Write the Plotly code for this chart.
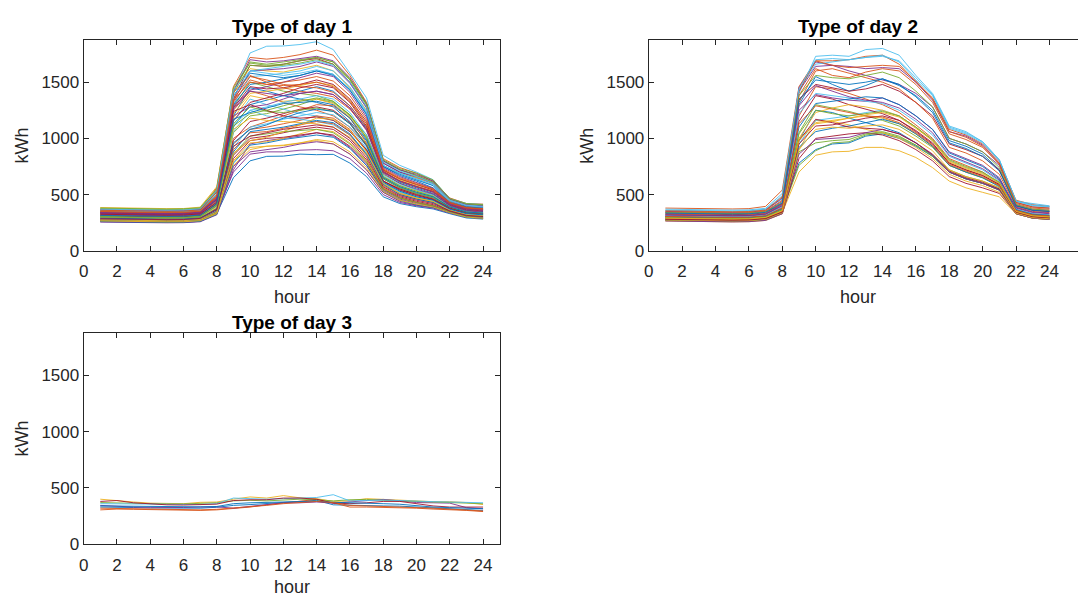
import plotly.graph_objects as go

hours = list(range(1, 25))

# Type of day 1 load profiles (kWh per hour)
day1 = [
    [300,296,293,291,290,291,298,330,650,800,840,842,860,855,858,780,660,480,420,392,372,330,292,282],
    [370,366,362,360,360,361,372,560,1460,1720,1705,1720,1745,1785,1740,1560,1320,820,740,690,620,470,420,415],
    [265,262,260,258,258,259,268,330,760,900,930,935,960,980,950,860,720,520,450,410,390,340,300,285],
    [280,276,273,271,270,271,280,340,700,860,880,880,895,900,890,820,690,500,430,400,380,335,300,290],
    [360,356,352,350,350,352,365,520,1420,1680,1660,1680,1700,1720,1680,1520,1300,800,720,670,610,450,400,395],
    [330,326,322,320,319,320,335,420,1400,1760,1820,1822,1835,1860,1790,1580,1360,850,760,700,632,462,420,412],
    [340,336,333,331,330,332,345,480,1350,1650,1640,1660,1690,1710,1660,1500,1280,780,700,650,600,440,395,385],
    [310,306,303,301,300,302,312,420,1200,1450,1420,1380,1350,1320,1280,1150,980,640,560,510,470,380,340,330],
    [290,287,284,282,281,282,292,380,1000,1100,1150,1200,1250,1300,1290,1180,960,620,540,490,450,370,330,320],
    [385,381,378,376,375,376,388,570,1440,1620,1600,1590,1620,1650,1600,1450,1250,760,690,650,600,440,410,405],
    [255,252,250,249,249,250,258,320,720,950,980,1000,1020,1050,1020,920,760,540,460,420,395,345,305,290],
    [320,316,313,311,310,312,322,450,1280,1500,1460,1420,1400,1380,1330,1200,1030,680,600,540,500,400,355,345],
    [350,346,343,341,340,342,352,500,1300,1550,1560,1580,1600,1640,1600,1460,1240,760,690,640,580,430,385,380],
    [275,272,269,267,267,268,276,350,850,1000,1020,1050,1080,1100,1080,980,810,560,480,440,410,350,310,300],
    [300,297,294,292,291,292,302,400,1100,1300,1340,1380,1420,1460,1420,1290,1090,700,610,560,510,405,360,350],
    [330,327,324,322,321,323,333,440,1250,1420,1380,1320,1280,1250,1200,1100,940,620,550,500,460,375,335,325],
    [265,262,259,257,257,258,266,335,800,960,970,1000,1040,1080,1060,960,800,560,470,430,400,345,305,295],
    [345,342,339,337,336,338,348,470,1330,1600,1610,1620,1640,1680,1640,1490,1270,780,700,660,600,445,400,390],
    [295,292,289,287,286,287,297,380,1050,1200,1220,1260,1300,1350,1320,1210,1000,650,570,520,480,390,345,335],
    [310,307,304,302,301,302,312,410,1150,1350,1300,1260,1220,1200,1160,1060,900,610,540,490,455,375,335,325],
    [270,267,264,262,262,263,272,345,820,980,1000,1010,1030,1050,1030,930,780,550,470,430,400,345,305,295],
    [355,352,349,347,346,348,358,500,1380,1580,1560,1540,1560,1600,1560,1430,1220,750,680,630,580,430,390,380],
    [285,282,279,277,277,278,287,365,950,1080,1100,1130,1160,1200,1180,1080,890,600,510,470,440,360,320,310],
    [325,322,319,317,316,318,328,440,1220,1400,1420,1440,1470,1500,1470,1340,1130,720,630,580,530,415,370,360],
    [260,257,255,253,253,254,262,330,750,880,900,920,950,970,950,860,720,520,440,405,385,340,300,290],
    [375,372,369,367,366,368,378,540,1400,1650,1640,1650,1670,1700,1660,1520,1300,800,720,670,610,455,415,405],
    [305,302,299,297,296,297,307,400,1120,1250,1200,1180,1170,1150,1120,1030,870,600,530,480,445,370,330,320],
    [290,287,284,282,281,282,292,375,980,1150,1180,1220,1260,1280,1250,1140,940,620,540,490,455,375,335,325],
    [340,337,334,332,331,333,343,460,1300,1480,1500,1530,1560,1600,1570,1430,1210,750,670,620,560,430,385,375],
    [280,277,274,272,272,273,282,355,900,1050,1060,1090,1120,1150,1130,1030,850,580,500,460,430,355,315,305],
    [315,312,309,307,306,308,318,425,1180,1380,1350,1330,1340,1350,1310,1190,1010,660,580,530,490,395,350,340],
    [365,362,359,357,356,358,368,530,1420,1700,1680,1690,1710,1730,1690,1540,1310,800,720,680,620,460,410,400],
    [270,267,264,262,262,263,272,340,860,1020,1040,1060,1070,1080,1050,950,790,550,470,430,400,345,305,295],
    [300,297,294,292,291,293,302,395,1060,1250,1280,1320,1350,1380,1350,1230,1030,670,590,540,495,395,350,340],
    [335,332,329,327,326,328,338,455,1270,1460,1440,1450,1480,1520,1480,1350,1150,720,640,590,540,420,375,365],
    [260,257,255,253,253,254,262,325,780,940,960,990,1010,1030,1010,910,760,530,450,410,390,340,300,290],
    [350,347,344,342,341,343,353,490,1350,1550,1520,1480,1460,1450,1410,1290,1100,700,620,570,530,420,375,365],
    [295,292,289,287,286,287,297,385,1080,1180,1160,1150,1140,1130,1100,1010,850,590,520,470,440,365,325,315],
    [320,317,314,312,311,313,323,435,1200,1280,1300,1350,1400,1420,1390,1270,1070,690,600,550,505,400,355,345],
    [380,377,374,372,371,373,383,550,1450,1670,1650,1660,1690,1720,1680,1530,1310,810,730,690,630,465,420,410],
    [285,282,279,277,277,278,287,360,920,1100,1130,1170,1200,1230,1210,1100,910,610,520,480,445,365,325,315],
    [310,307,304,302,301,303,313,415,1160,1320,1360,1400,1450,1480,1450,1320,1110,710,620,570,520,410,365,355],
    [275,272,269,267,267,268,277,350,880,1060,1080,1100,1130,1160,1140,1040,860,590,500,460,430,355,315,305],
    [345,342,339,337,336,338,348,475,1320,1520,1480,1470,1480,1500,1460,1330,1130,720,640,590,545,425,380,370],
    [265,262,259,257,257,258,267,330,800,920,930,940,960,990,970,880,740,530,450,415,390,340,300,290],
    [330,327,324,322,321,323,333,450,1260,1430,1460,1500,1540,1580,1550,1410,1190,740,660,610,555,425,380,370],
    [300,297,294,292,291,293,302,400,1130,1280,1240,1230,1250,1270,1240,1130,950,640,560,510,470,385,340,330],
    [355,352,349,347,346,348,358,505,1370,1600,1620,1640,1660,1690,1650,1500,1280,790,710,660,600,450,405,395],
    [325,322,319,317,316,318,328,430,1240,1300,1250,1200,1180,1190,1160,1060,900,620,550,500,460,380,340,330],
    [290,287,284,282,281,283,292,370,960,1080,1120,1180,1230,1260,1240,1130,930,610,530,480,450,370,330,320],
    [360,357,354,352,351,353,363,520,1410,1560,1500,1450,1420,1400,1370,1260,1080,700,620,570,530,425,380,370],
    [275,272,269,267,267,268,278,345,870,980,1010,1060,1120,1180,1170,1070,880,600,510,470,440,360,320,310],
    [340,337,334,332,331,333,343,465,1290,1420,1400,1380,1400,1420,1390,1270,1080,700,620,570,525,415,370,360],
    [305,302,299,297,296,298,307,405,1110,1220,1250,1290,1330,1360,1330,1210,1010,660,580,530,485,390,345,335],
    [370,367,364,362,361,363,373,535,1430,1600,1580,1560,1580,1610,1570,1440,1230,760,690,640,590,445,400,390],
    [285,282,279,277,277,278,288,365,930,1020,1050,1080,1100,1120,1100,1000,830,570,490,450,420,355,315,305],
    [315,312,309,307,306,308,317,420,1170,1230,1270,1310,1320,1330,1300,1180,990,650,570,520,480,390,345,335],
    [350,347,344,342,341,343,352,485,1340,1500,1480,1500,1520,1550,1510,1380,1170,730,650,600,550,430,385,375],
]

# Type of day 2 load profiles
day2 = [
    [300,297,295,293,292,294,305,360,780,900,950,960,1020,1040,1000,930,840,700,640,600,550,350,305,295],
    [380,377,374,372,372,375,395,540,1460,1690,1690,1700,1730,1740,1660,1500,1360,1080,1030,950,800,450,410,395],
    [280,277,275,273,272,273,285,340,700,850,880,885,920,920,890,830,740,620,560,520,480,330,290,280],
    [340,337,334,332,332,334,348,440,1450,1680,1650,1600,1560,1520,1480,1400,1280,1000,950,880,760,410,370,360],
    [290,287,284,282,282,284,295,350,760,890,960,970,1030,1050,1010,940,850,720,660,620,560,340,300,290],
    [360,357,354,352,352,355,370,460,1400,1730,1740,1730,1790,1800,1740,1560,1400,1110,1060,970,810,440,420,400],
    [270,267,265,263,262,264,275,330,820,1000,1020,1040,1050,1030,980,900,800,660,600,560,510,330,290,280],
    [320,317,314,312,312,314,328,400,1300,1550,1480,1420,1470,1530,1470,1380,1250,980,930,860,720,400,360,350],
    [310,307,304,302,302,304,318,390,1200,1460,1440,1400,1350,1300,1230,1120,1000,820,760,700,600,370,330,320],
    [265,262,260,258,257,259,270,330,900,1160,1150,1120,1080,1050,1000,920,820,680,620,580,520,330,290,280],
    [350,347,344,342,342,344,358,470,1420,1640,1650,1640,1620,1630,1620,1500,1340,1060,1020,940,780,430,390,380],
    [300,297,295,293,292,294,306,370,1050,1300,1270,1240,1200,1160,1110,1020,920,760,700,650,580,360,320,310],
    [285,282,280,278,277,279,290,350,950,1160,1180,1200,1230,1250,1200,1100,980,800,740,690,600,350,310,300],
    [330,327,324,322,322,324,338,420,1350,1480,1450,1420,1440,1480,1420,1320,1200,950,900,840,720,400,360,350],
    [275,272,270,268,267,269,280,340,980,1250,1230,1180,1140,1100,1050,960,850,700,640,600,540,335,295,285],
    [345,342,339,337,337,339,352,450,1380,1620,1560,1540,1590,1620,1600,1480,1320,1040,990,920,770,420,380,370],
    [295,292,290,288,287,289,300,360,1000,1130,1150,1180,1200,1180,1130,1040,930,760,700,650,580,345,305,295],
    [315,312,309,307,307,309,322,400,1250,1390,1360,1340,1330,1360,1300,1200,1080,880,820,760,650,380,340,330],
    [270,267,265,263,262,264,276,335,880,960,980,990,1040,1060,1020,940,840,700,640,600,540,330,290,280],
    [360,357,354,352,352,355,368,490,1430,1660,1680,1700,1720,1740,1680,1520,1380,1090,1040,960,800,440,400,390],
    [305,302,300,298,297,299,312,380,1150,1380,1350,1300,1260,1220,1160,1060,950,780,720,670,590,360,320,310],
    [280,277,275,273,272,274,286,345,920,1060,1090,1110,1140,1170,1130,1040,930,760,700,650,570,345,305,295],
    [325,322,319,317,317,319,332,415,1320,1600,1620,1580,1540,1500,1440,1320,1180,920,870,800,680,390,350,340],
    [290,287,285,283,282,284,296,355,1000,1230,1270,1300,1280,1250,1200,1100,980,800,740,690,610,355,315,305],
    [265,262,260,258,257,259,270,330,860,990,1000,1010,1050,1080,1040,960,850,700,640,600,540,330,290,280],
    [340,337,334,332,332,334,347,430,1380,1560,1540,1530,1560,1590,1540,1420,1280,1000,950,880,740,410,370,360],
    [310,307,304,302,302,304,317,390,1220,1400,1380,1360,1330,1310,1250,1150,1030,840,780,720,620,370,330,320],
    [285,282,280,278,277,279,290,350,980,1170,1140,1100,1090,1080,1040,960,860,710,650,610,550,340,300,290],
    [300,297,295,293,292,294,307,375,1100,1310,1330,1350,1370,1360,1300,1200,1080,870,810,750,640,365,325,315],
    [355,352,349,347,347,349,362,480,1420,1690,1650,1630,1640,1650,1640,1510,1350,1060,1010,930,780,430,390,380],
    [275,272,270,268,267,269,281,340,900,1080,1100,1090,1110,1120,1080,990,890,720,660,620,560,335,295,285],
    [320,317,314,312,312,314,327,410,1290,1470,1420,1370,1340,1320,1270,1170,1050,850,790,730,630,385,345,335],
    [295,292,290,288,287,289,301,365,1040,1250,1220,1200,1220,1240,1200,1100,990,810,750,700,610,355,315,305],
    [370,367,364,362,362,364,378,510,1440,1700,1710,1700,1720,1730,1690,1540,1390,1100,1050,970,810,445,405,395],
    [280,277,275,273,272,274,286,345,950,1110,1120,1150,1180,1200,1160,1070,960,780,720,670,590,345,305,295],
    [335,332,329,327,327,329,342,425,1340,1520,1500,1480,1500,1530,1480,1370,1230,960,910,840,710,400,360,350],
    [305,302,300,298,297,299,312,380,1130,1290,1260,1230,1200,1190,1140,1050,940,770,710,660,580,360,320,310],
    [290,287,285,283,282,284,296,355,980,1140,1160,1180,1210,1230,1190,1090,980,790,730,680,600,350,310,300],
]

# Type of day 3 load profiles
day3 = [
    [330,330,326,322,320,320,320,328,345,352,360,368,378,390,350,345,342,340,338,330,322,316,310,300],
    [305,312,310,306,304,302,300,305,315,330,350,368,385,398,368,330,330,328,325,320,312,308,300,290],
    [400,385,375,365,360,360,372,375,400,420,410,432,412,405,380,385,405,398,390,380,378,378,370,352],
    [345,335,330,328,326,326,330,332,320,338,355,368,368,375,365,378,390,398,385,370,368,365,325,315],
    [370,366,362,360,358,358,362,368,385,390,385,395,400,395,385,395,398,390,385,385,378,375,368,360],
    [360,358,356,354,352,350,352,360,410,405,400,405,410,415,440,385,388,392,388,380,378,375,372,368],
    [380,388,368,356,350,348,350,356,388,395,395,410,410,400,365,360,368,380,380,360,340,330,332,330],
    [340,338,336,334,332,332,332,335,360,368,372,375,380,382,372,370,365,360,355,340,330,325,320,315],
    [320,318,316,314,312,310,305,310,320,330,345,360,370,380,370,345,340,335,332,330,320,312,305,295],
]

titles = ["Type of day 1", "Type of day 2", "Type of day 3"]
x_label = "hour"
y_label = "kWh"
y_ticks = [0, 500, 1000, 1500]
x_ticks = list(range(0, 25, 2))

colors = ["#0072BD", "#D95319", "#EDB120", "#7E2F8E", "#77AC30", "#4DBEEE", "#A2142F"]

W, H = 1078, 605
fig = go.Figure()

panels = [
    (day1, "x", "y"),
    (day2, "x2", "y2"),
    (day3, "x3", "y3"),
]
for data, xa, ya in panels:
    for i, row in enumerate(data):
        fig.add_trace(go.Scatter(
            x=hours, y=row, mode="lines", xaxis=xa, yaxis=ya,
            line=dict(color=colors[i % 7], width=0.9),
            showlegend=False, hoverinfo="skip"))

axc = "#262626"
FONT = "Liberation Sans, Arial, sans-serif"
tickfont = dict(family=FONT, size=17, color=axc)

def xax(domain, rng, mirror=True):
    return dict(domain=domain, range=rng, tickvals=x_ticks, ticks="inside", ticklen=5,
                tickcolor=axc, showline=True, linecolor=axc, linewidth=1,
                mirror="ticks" if mirror else False, showgrid=False, zeroline=False,
                tickfont=tickfont, ticklabelstandoff=5)

def yax(domain, anchor, mirror=True):
    return dict(domain=domain, range=[0, 1875], tickvals=y_ticks, ticks="inside", ticklen=5,
                tickcolor=axc, showline=True, linecolor=axc, linewidth=1,
                mirror="ticks" if mirror else False, showgrid=False, zeroline=False,
                tickfont=tickfont, anchor=anchor)

x1d = [79 / W, 497 / W]
x2d = [646.7 / W, 1.0]
y_top = [(H - 255) / H, (H - 40.7) / H]
y_bot = [(H - 553.3) / H, (H - 339) / H]
x2range = [0, (W - 646.7) / 16.775]

fig.update_layout(
    width=W, height=H, margin=dict(l=0, r=0, t=0, b=0),
    paper_bgcolor="white", plot_bgcolor="white",
    xaxis=dict(xax(x1d, [0, 25]), anchor="y"),
    yaxis=yax(y_top, "x"),
    xaxis2=dict(xax(x2d, x2range), anchor="y2"),
    yaxis2=yax(y_top, "x2", mirror=False),
    xaxis3=dict(xax(x1d, [0, 25]), anchor="y3"),
    yaxis3=yax(y_bot, "x3"),
)

labfont = dict(family=FONT, size=18, color=axc)
titfont = dict(family=FONT, size=19, color="black")

def px_x(p):
    return p / W

def px_y(p):
    return (H - p) / H

ann = []
for t, cx, cy in [(titles[0], 288, 27), (titles[1], 856.5, 27), (titles[2], 288, 328)]:
    ann.append(dict(text="<b>" + t + "</b>", x=px_x(cx), y=px_y(cy), xref="paper", yref="paper",
                    showarrow=False, font=titfont, xanchor="center", yanchor="middle"))
for cx, cy in [(288, 302), (856.5, 302)]:
    ann.append(dict(text=x_label, x=px_x(cx), y=px_y(cy), xref="paper", yref="paper",
                    showarrow=False, font=labfont, xanchor="center", yanchor="middle"))
ann.append(dict(text=x_label, x=px_x(288), y=0, xref="paper", yref="paper", yshift=-4,
                showarrow=False, font=labfont, xanchor="center", yanchor="bottom"))
for cx, cy in [(17, 148), (584, 148), (17, 446)]:
    ann.append(dict(text=y_label, x=px_x(cx), y=px_y(cy), xref="paper", yref="paper",
                    showarrow=False, font=labfont, xanchor="center", yanchor="middle", textangle=-90))
fig.update_layout(annotations=ann)

fig.write_html("out.html")
